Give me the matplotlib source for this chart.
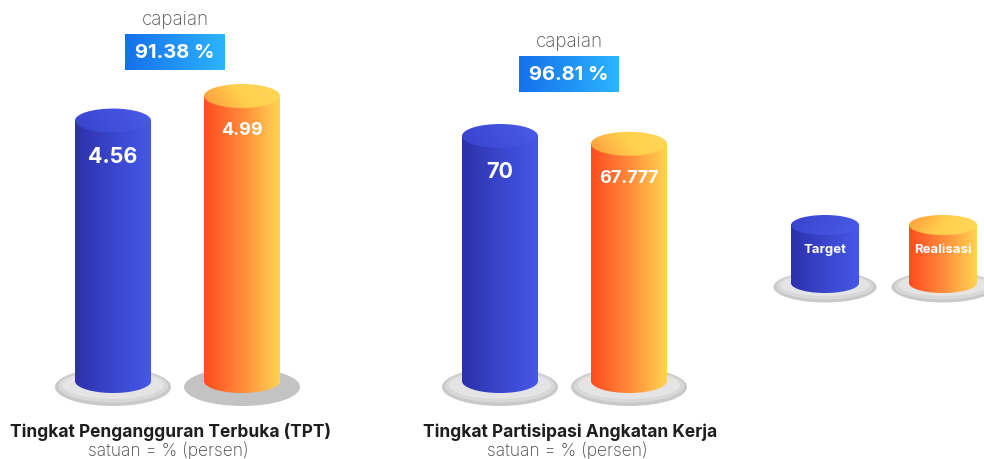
import numpy as np
import matplotlib
matplotlib.use("Agg")
import matplotlib.pyplot as plt
from matplotlib.patches import Ellipse, PathPatch
from matplotlib.path import Path
from matplotlib.colors import LinearSegmentedColormap

# ---------------- data ----------------
groups = ["Tingkat Pengangguran Terbuka (TPT)", "Tingkat Partisipasi Angkatan Kerja"]
units = ["satuan = % (persen)", "satuan = % (persen)"]
series = ["Target", "Realisasi"]
target_values = [4.56, 70]
realisasi_values = [4.99, 67.777]
value_labels = [["4.56", "4.99"], ["70", "67.777"]]
capaian_labels = ["91.38 %", "96.81 %"]

# ---------------- layout / style ----------------
FONT = ["Inter", "DejaVu Sans"]
W, H = 984, 459
fig = plt.figure(figsize=(W / 100, H / 100), dpi=100)
bg = fig.add_axes([0, 0, 1, 1])
bg.set_xlim(0, W)
bg.set_ylim(H, 0)
bg.axis("off")

blue_body = LinearSegmentedColormap.from_list("bb", ["#2D31AA", "#3A46CC", "#4558E6"])
blue_top = LinearSegmentedColormap.from_list("bt", ["#3943CC", "#4A5CE8"])
orange_body = LinearSegmentedColormap.from_list("ob", ["#FF4B1F", "#FF8A3A", "#FFD452"])
orange_top = LinearSegmentedColormap.from_list("ot", ["#FF9A3C", "#FFD04E", "#FFD856"])
capaian_cmap = LinearSegmentedColormap.from_list("cb", ["#1570EA", "#2CB4FF"])
body_cmaps = [blue_body, orange_body]
top_cmaps = [blue_top, orange_top]
label_sizes = [15.5, 13.0]
label_offsets = [36, 35]

BASE_PX = 381          # pixel row of value 0
CYL_W = 76
RY_PX = 12
group_centers = [177.5, 564.5]
spacing = 129
max_px = [285, 245]    # pixel height of the tallest bar in each group
box_center_x = [175, 569]
box_top_px = [34, 56]
title_x = [170, 570]
sub_x = [168, 567]


def grad_fill(ax, x0, x1, y0, y1, cmap, clip, diagonal=False):
    if diagonal:
        gx, gy = np.meshgrid(np.linspace(0, 1, 64), np.linspace(0, 1, 64))
        img = (gx * 0.8 + gy * 0.2)
    else:
        img = np.linspace(0, 1, 256).reshape(1, -1)
    im = ax.imshow(img, extent=[x0, x1, y0, y1], cmap=cmap, aspect="auto",
                   origin="lower", interpolation="bilinear", zorder=3)
    im.set_clip_path(clip)


def plate(ax, xc, s, flat=False):
    py = -6 / s
    if flat:
        ax.add_patch(Ellipse((xc, py), 116, 38 / s, color="#C3C3C3", zorder=1, lw=0))
    else:
        ax.add_patch(Ellipse((xc, py), 116, 38 / s, color="#C9C9C9", zorder=1, lw=0))
        ax.add_patch(Ellipse((xc, py + 1 / s), 110, 33 / s, color="#D8D8D8", zorder=1, lw=0))
        ax.add_patch(Ellipse((xc, py + 2 / s), 102, 28 / s, color="#E4E4E4", zorder=1, lw=0))


def cylinder(ax, xc, val, s, k, w=CYL_W, ry_px=RY_PX, base=0.0):
    ry = ry_px / s
    x0, x1 = xc - w / 2, xc + w / 2
    t = np.linspace(0, -np.pi, 60)
    pts = [(xc + w / 2 * np.cos(a), base + ry * np.sin(a)) for a in t]
    pts += [(x0, val), (x1, val), (x1, base)]
    body = PathPatch(Path(pts), transform=ax.transData, facecolor="none", edgecolor="none")
    ax.add_patch(body)
    grad_fill(ax, x0, x1, base - ry, val, body_cmaps[k], body)
    top = Ellipse((xc, val), w, 2 * ry, facecolor="none", edgecolor="none", transform=ax.transData)
    ax.add_patch(top)
    grad_fill(ax, x0, x1, val - ry, val + ry, top_cmaps[k], top, diagonal=True)


for g in range(2):
    vals = [target_values[g], realisasi_values[g]]
    s = max_px[g] / max(vals)
    ax = fig.add_axes([0, 0, 1, 1])
    ax.patch.set_alpha(0)
    ax.set_xlim(0, W)
    ax.set_ylim(-(H - BASE_PX) / s, BASE_PX / s)
    ax.axis("off")
    for k, v in enumerate(vals):
        xc = group_centers[g] + (k - 0.5) * spacing
        plate(ax, xc, s, flat=(g == 0 and k == 1))
        cylinder(ax, xc, v, s, k)
        ax.text(xc, v - label_offsets[k] / s, value_labels[g][k], ha="center", va="center",
                color="white", fontsize=label_sizes[k], fontweight="bold", family=FONT, zorder=5)
    # capaian box
    bt = box_top_px[g]
    bb = bt + 36
    bcx = box_center_x[g]
    bg.imshow(np.linspace(0, 1, 256).reshape(1, -1), cmap=capaian_cmap, aspect="auto",
              extent=[bcx - 50, bcx + 50, bb, bt], zorder=2)
    bg.text(bcx, (bt + bb) / 2 + 1, capaian_labels[g], ha="center", va="center",
            color="white", fontsize=14.5, fontweight="bold", family=FONT, zorder=4)
    bg.text(bcx, bt - 14, "capaian", ha="center", va="center",
            color="#555555", fontsize=13.5, fontweight="light", family=FONT)
    bg.text(title_x[g], 432, groups[g], ha="center", va="center",
            color="#1E1E1E", fontsize=12.5, fontweight="bold", family=FONT)
    bg.text(sub_x[g], 451, units[g], ha="center", va="center",
            color="#444444", fontsize=12.5, fontweight="light", family=FONT)

# legend cylinders
lax = fig.add_axes([0, 0, 1, 1])
lax.patch.set_alpha(0)
lax.set_xlim(0, W)
lax.set_ylim(H, 0)
lax.axis("off")
leg_x = [825, 943]
for k, name in enumerate(series):
    xc = leg_x[k]
    lax.add_patch(Ellipse((xc, 287), 103, 31, color="#C9C9C9", zorder=1, lw=0))
    lax.add_patch(Ellipse((xc, 286), 97, 27, color="#D8D8D8", zorder=1, lw=0))
    lax.add_patch(Ellipse((xc, 285), 89, 22, color="#E4E4E4", zorder=1, lw=0))
    w, ry = 68, 10
    t = np.linspace(0, np.pi, 60)
    pts = [(xc + w / 2 * np.cos(a), 283 + ry * np.sin(a)) for a in t]
    pts += [(xc - w / 2, 225), (xc + w / 2, 225), (xc + w / 2, 283)]
    body = PathPatch(Path(pts), facecolor="none", edgecolor="none")
    lax.add_patch(body)
    im = lax.imshow(np.linspace(0, 1, 256).reshape(1, -1), cmap=body_cmaps[k], aspect="auto",
                    extent=[xc - w / 2, xc + w / 2, 283 + ry, 225], zorder=3)
    im.set_clip_path(body)
    top = Ellipse((xc, 225), w, 2 * ry, facecolor="none", edgecolor="none")
    lax.add_patch(top)
    gx, gy = np.meshgrid(np.linspace(0, 1, 64), np.linspace(0, 1, 64))
    im2 = lax.imshow(gx * 0.8 + gy * 0.2, cmap=top_cmaps[k], aspect="auto",
                     extent=[xc - w / 2, xc + w / 2, 225 + ry, 225 - ry], zorder=3)
    im2.set_clip_path(top)
    lax.text(xc, 250, name, ha="center", va="center", color="white",
             fontsize=9.5, fontweight="bold", family=FONT, zorder=5)

fig.savefig("out.png", dpi=100)
